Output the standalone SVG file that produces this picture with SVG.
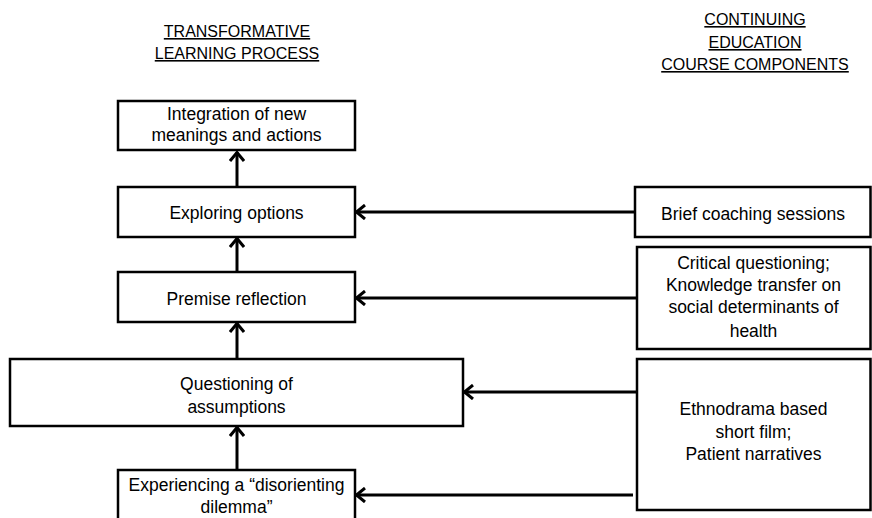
<svg xmlns="http://www.w3.org/2000/svg" width="872" height="518" viewBox="0 0 872 518">
<style>
.box{fill:#fff;stroke:#000;stroke-width:2.5}
.t{font-family:"Liberation Sans",Arial,sans-serif;font-size:17.5px;fill:#000;text-anchor:middle}
.h{font-family:"Liberation Sans",Arial,sans-serif;font-size:16px;fill:#000;text-anchor:middle;text-decoration:underline}
.c{fill:none;stroke:#000;stroke-width:3}
</style>
<defs>
<marker id="arr" viewBox="0 0 12 16" refX="11" refY="8" markerWidth="12" markerHeight="16" markerUnits="userSpaceOnUse" orient="auto">
<path d="M2,1 L10.5,8 L2,15" fill="none" stroke="#000" stroke-width="3"/>
</marker>
</defs>
<rect width="872" height="518" fill="#fff"/>
<g id="title-left">
<text class="h" x="237" y="37">TRANSFORMATIVE</text>
<text class="h" x="237" y="59">LEARNING PROCESS</text>
</g>
<g id="title-right">
<text class="h" x="755" y="25">CONTINUING</text>
<text class="h" x="755" y="48">EDUCATION</text>
<text class="h" x="755" y="70">COURSE COMPONENTS</text>
</g>
<g id="connectors">
<line class="c" x1="237" y1="186" x2="237" y2="152" marker-end="url(#arr)"/>
<line class="c" x1="237" y1="272" x2="237" y2="238" marker-end="url(#arr)"/>
<line class="c" x1="237" y1="359" x2="237" y2="323" marker-end="url(#arr)"/>
<line class="c" x1="237" y1="470" x2="237" y2="427" marker-end="url(#arr)"/>
<line class="c" x1="635" y1="212" x2="356" y2="212" marker-end="url(#arr)"/>
<line class="c" x1="637" y1="298" x2="356" y2="298" marker-end="url(#arr)"/>
<line class="c" x1="637" y1="392" x2="464" y2="392" marker-end="url(#arr)"/>
<line class="c" x1="633" y1="495" x2="356" y2="495" marker-end="url(#arr)"/>
</g>
<g id="integration">
<rect class="box" x="118" y="101" width="237" height="49"/>
<text class="t" x="236.5" y="120">Integration of new</text>
<text class="t" x="236.5" y="141">meanings and actions</text>
</g>
<g id="exploring">
<rect class="box" x="118" y="187" width="237" height="50"/>
<text class="t" x="236.5" y="219">Exploring options</text>
</g>
<g id="premise">
<rect class="box" x="118" y="272" width="237" height="50"/>
<text class="t" x="236.5" y="305">Premise reflection</text>
</g>
<g id="questioning">
<rect class="box" x="10" y="359" width="453" height="67"/>
<text class="t" x="236.5" y="390">Questioning of</text>
<text class="t" x="236.5" y="413">assumptions</text>
</g>
<g id="experiencing">
<rect class="box" x="118" y="470" width="237" height="60"/>
<text class="t" x="236.5" y="491">Experiencing a “disorienting</text>
<text class="t" x="236.5" y="513">dilemma”</text>
</g>
<g id="coaching">
<rect class="box" x="635" y="187" width="235.5" height="50"/>
<text class="t" x="753" y="220">Brief coaching sessions</text>
</g>
<g id="critical">
<rect class="box" x="637" y="247" width="233.5" height="102"/>
<text class="t" x="753.5" y="269">Critical questioning;</text>
<text class="t" x="753.5" y="291">Knowledge transfer on</text>
<text class="t" x="753.5" y="313">social determinants of</text>
<text class="t" x="753.5" y="337">health</text>
</g>
<g id="ethnodrama">
<rect class="box" x="637" y="359" width="233.5" height="151"/>
<text class="t" x="753.5" y="415">Ethnodrama based</text>
<text class="t" x="753.5" y="438">short film;</text>
<text class="t" x="753.5" y="460">Patient narratives</text>
</g>
</svg>
